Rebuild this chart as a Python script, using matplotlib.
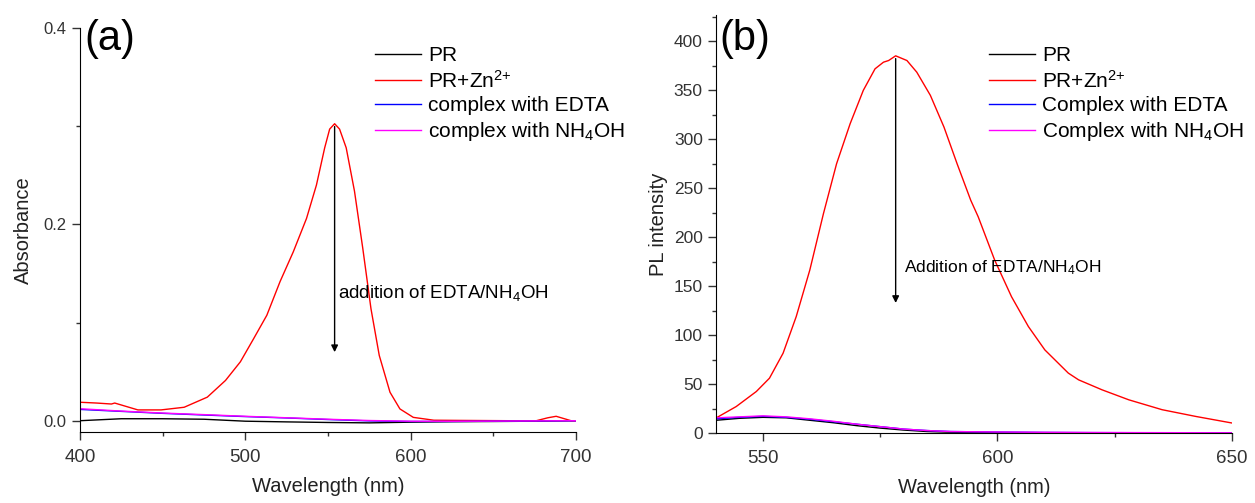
import numpy as np
import matplotlib.pyplot as plt
from matplotlib.ticker import MultipleLocator

plt.rcParams['font.family'] = ['Liberation Sans', 'DejaVu Sans']
plt.rcParams['mathtext.fontset'] = 'custom'
plt.rcParams['mathtext.rm'] = 'Liberation Sans'
plt.rcParams['mathtext.it'] = 'Liberation Sans'

# ---------------- panel (a): absorbance ----------------
wl_red_a = [400, 410, 419, 421, 435, 449, 463, 477, 488, 497, 505, 513, 521, 529, 537, 543,
            548, 551, 554, 557, 561, 566, 571, 576, 581, 587.5, 593.5, 601.6, 614, 630,
            660, 676, 683, 688, 693, 697, 700]
abs_red = [0.0188, 0.018, 0.017, 0.018, 0.011, 0.011, 0.0137, 0.024, 0.041, 0.060, 0.0835,
           0.1074, 0.1417, 0.172, 0.206, 0.240, 0.278, 0.297, 0.3025, 0.297, 0.278, 0.234,
           0.176, 0.114, 0.0665, 0.029, 0.012, 0.0034, 0.0005, 0.0003, 0.0, 0.0, 0.003,
           0.0045, 0.002, 0.0, 0.0]
wl_low_a = [400, 425, 450, 475, 500, 525, 550, 575, 600, 625, 650, 675, 700]
abs_pr = [0.000, 0.002, 0.002, 0.0015, -0.0005, -0.0012, -0.0018, -0.0022, -0.0015, -0.001, -0.0008, -0.0005, 0.0]
abs_edta = [0.0115, 0.0095, 0.0075, 0.0058, 0.0042, 0.0028, 0.0012, -0.0002, -0.0008, -0.0008, -0.0005, -0.0003, 0.0]
abs_nh4 = [0.0122, 0.0098, 0.0078, 0.0062, 0.0045, 0.003, 0.0015, 0.0002, -0.0005, -0.0006, -0.0004, -0.0002, 0.0]

# ---------------- panel (b): PL ----------------
wl_red_b = [540, 544.3, 548.6, 551.4, 554.3, 557.1, 560, 562.9, 565.7, 568.6, 571.4, 573.9,
            575.7, 576.8, 578.3, 580.7, 582.8, 585.7, 588.6, 591.4, 594.3, 595.9, 599.4,
            603, 606.6, 610.1, 615.1, 617.3, 622.3, 628, 635.1, 642.3, 650]
pl_red = [15.3, 27, 42.4, 56, 81.5, 118.9, 166.5, 224, 275, 316, 350, 372, 378.8, 380.5,
          385.3, 380.5, 368.6, 344.9, 312.5, 275, 237.8, 220.8, 176.7, 139.2, 108.7, 84.9,
          61.2, 54.3, 44.1, 33.9, 23.8, 16.9, 10.2]
wl_low_b = [540, 545, 550, 555, 560, 565, 570, 575, 580, 585, 590, 600, 610, 620, 630, 640, 650]
pl_pr = [13, 15, 16, 15.5, 13, 10.5, 7.5, 5, 3, 1.5, 0.8, 0.3, 0.2, 0.1, 0.1, 0.0, 0.0]
pl_edta = [14.5, 16, 17, 16, 14, 11.5, 9, 6.5, 4, 2.5, 1.5, 1.0, 0.6, 0.4, 0.3, 0.2, 0.1]
pl_nh4 = [15.5, 16.5, 17.5, 16.5, 14.5, 12, 9, 6.5, 4, 2.5, 1.5, 1.0, 0.7, 0.5, 0.4, 0.3, 0.2]

labels_a = ['PR', r'PR+Zn$^{2{+}}$', 'complex with EDTA', r'complex with NH$_4$OH']
labels_b = ['PR', r'PR+Zn$^{2{+}}$', 'Complex with EDTA', r'Complex with NH$_4$OH']

fig = plt.figure(figsize=(12.55, 5.03), dpi=100)
ax_a = fig.add_axes([80 / 1255, 1 - 432 / 503, 496 / 1255, 404 / 503])
ax_b = fig.add_axes([716 / 1255, 1 - 433 / 503, 516 / 1255, 418 / 503])

lw = 1.0
ax_a.plot(wl_low_a, abs_pr, color='black', lw=lw, label=labels_a[0])
ax_a.plot(wl_red_a, abs_red, color='red', lw=lw, label=labels_a[1])
ax_a.plot(wl_low_a, abs_edta, color='blue', lw=lw, label=labels_a[2])
ax_a.plot(wl_low_a, abs_nh4, color='magenta', lw=lw, label=labels_a[3])

ax_b.plot(wl_low_b, pl_pr, color='black', lw=lw, label=labels_b[0])
ax_b.plot(wl_red_b, pl_red, color='red', lw=lw, label=labels_b[1])
ax_b.plot(wl_low_b, pl_edta, color='blue', lw=lw, label=labels_b[2])
ax_b.plot(wl_low_b, pl_nh4, color='magenta', lw=lw, label=labels_b[3])

ax_a.set_xlim(400, 700)
ax_a.set_ylim(-0.0115, 0.4)
ax_a.xaxis.set_major_locator(MultipleLocator(100))
ax_a.xaxis.set_minor_locator(MultipleLocator(50))
ax_a.yaxis.set_major_locator(MultipleLocator(0.2))
ax_a.yaxis.set_minor_locator(MultipleLocator(0.1))

ax_b.set_xlim(540, 650)
ax_b.set_ylim(0, 427)
ax_b.xaxis.set_major_locator(MultipleLocator(50))
ax_b.xaxis.set_minor_locator(MultipleLocator(25))
ax_b.yaxis.set_major_locator(MultipleLocator(50))
ax_b.yaxis.set_minor_locator(MultipleLocator(25))

for ax in (ax_a, ax_b):
    ax.spines['top'].set_visible(False)
    ax.spines['right'].set_visible(False)
    ax.tick_params(which='major', direction='out', length=6, width=1, colors='#333333')
    ax.tick_params(which='minor', direction='out', length=3, width=1, colors='#333333')
    ax.tick_params(axis='x', labelsize=13.5, pad=6)
    ax.set_xlabel('Wavelength (nm)', fontsize=14.5, color='#222222', labelpad=8)

ax_a.tick_params(axis='y', labelsize=12)
ax_b.tick_params(axis='y', labelsize=12.5)
ax_a.set_ylabel('Absorbance', fontsize=14.5, color='#222222', labelpad=8)
ax_b.set_ylabel('PL intensity', fontsize=14.5, color='#222222', labelpad=4)

# panel tags
fig.text(84 / 1255, 1 - 50 / 503, '(a)', fontsize=30)
fig.text(719 / 1255, 1 - 50 / 503, '(b)', fontsize=30)

# legends
leg_kw = dict(bbox_transform=fig.transFigure, frameon=False, fontsize=15,
              handlelength=2.2, handletextpad=0.35, labelspacing=0.23, borderpad=0,
              borderaxespad=0, loc='upper left')
ax_a.legend(bbox_to_anchor=(375 / 1255, 1 - 46 / 503), **leg_kw)
ax_b.legend(bbox_to_anchor=(989 / 1255, 1 - 46 / 503), **leg_kw)

# arrows and notes
ax_a.annotate('', xy=(554, 0.067), xytext=(554, 0.3025),
              arrowprops=dict(arrowstyle='-|>', color='black', lw=1, mutation_scale=10))
ax_a.text(556, 0.13, r'addition of EDTA/NH$_4$OH', fontsize=13.5, va='center', ha='left')

ax_b.annotate('', xy=(578.3, 130), xytext=(578.3, 385.3),
              arrowprops=dict(arrowstyle='-|>', color='black', lw=1, mutation_scale=10))
ax_b.text(580, 169, r'Addition of EDTA/NH$_4$OH', fontsize=12.5, va='center', ha='left')

fig.savefig('out.png', dpi=100)
